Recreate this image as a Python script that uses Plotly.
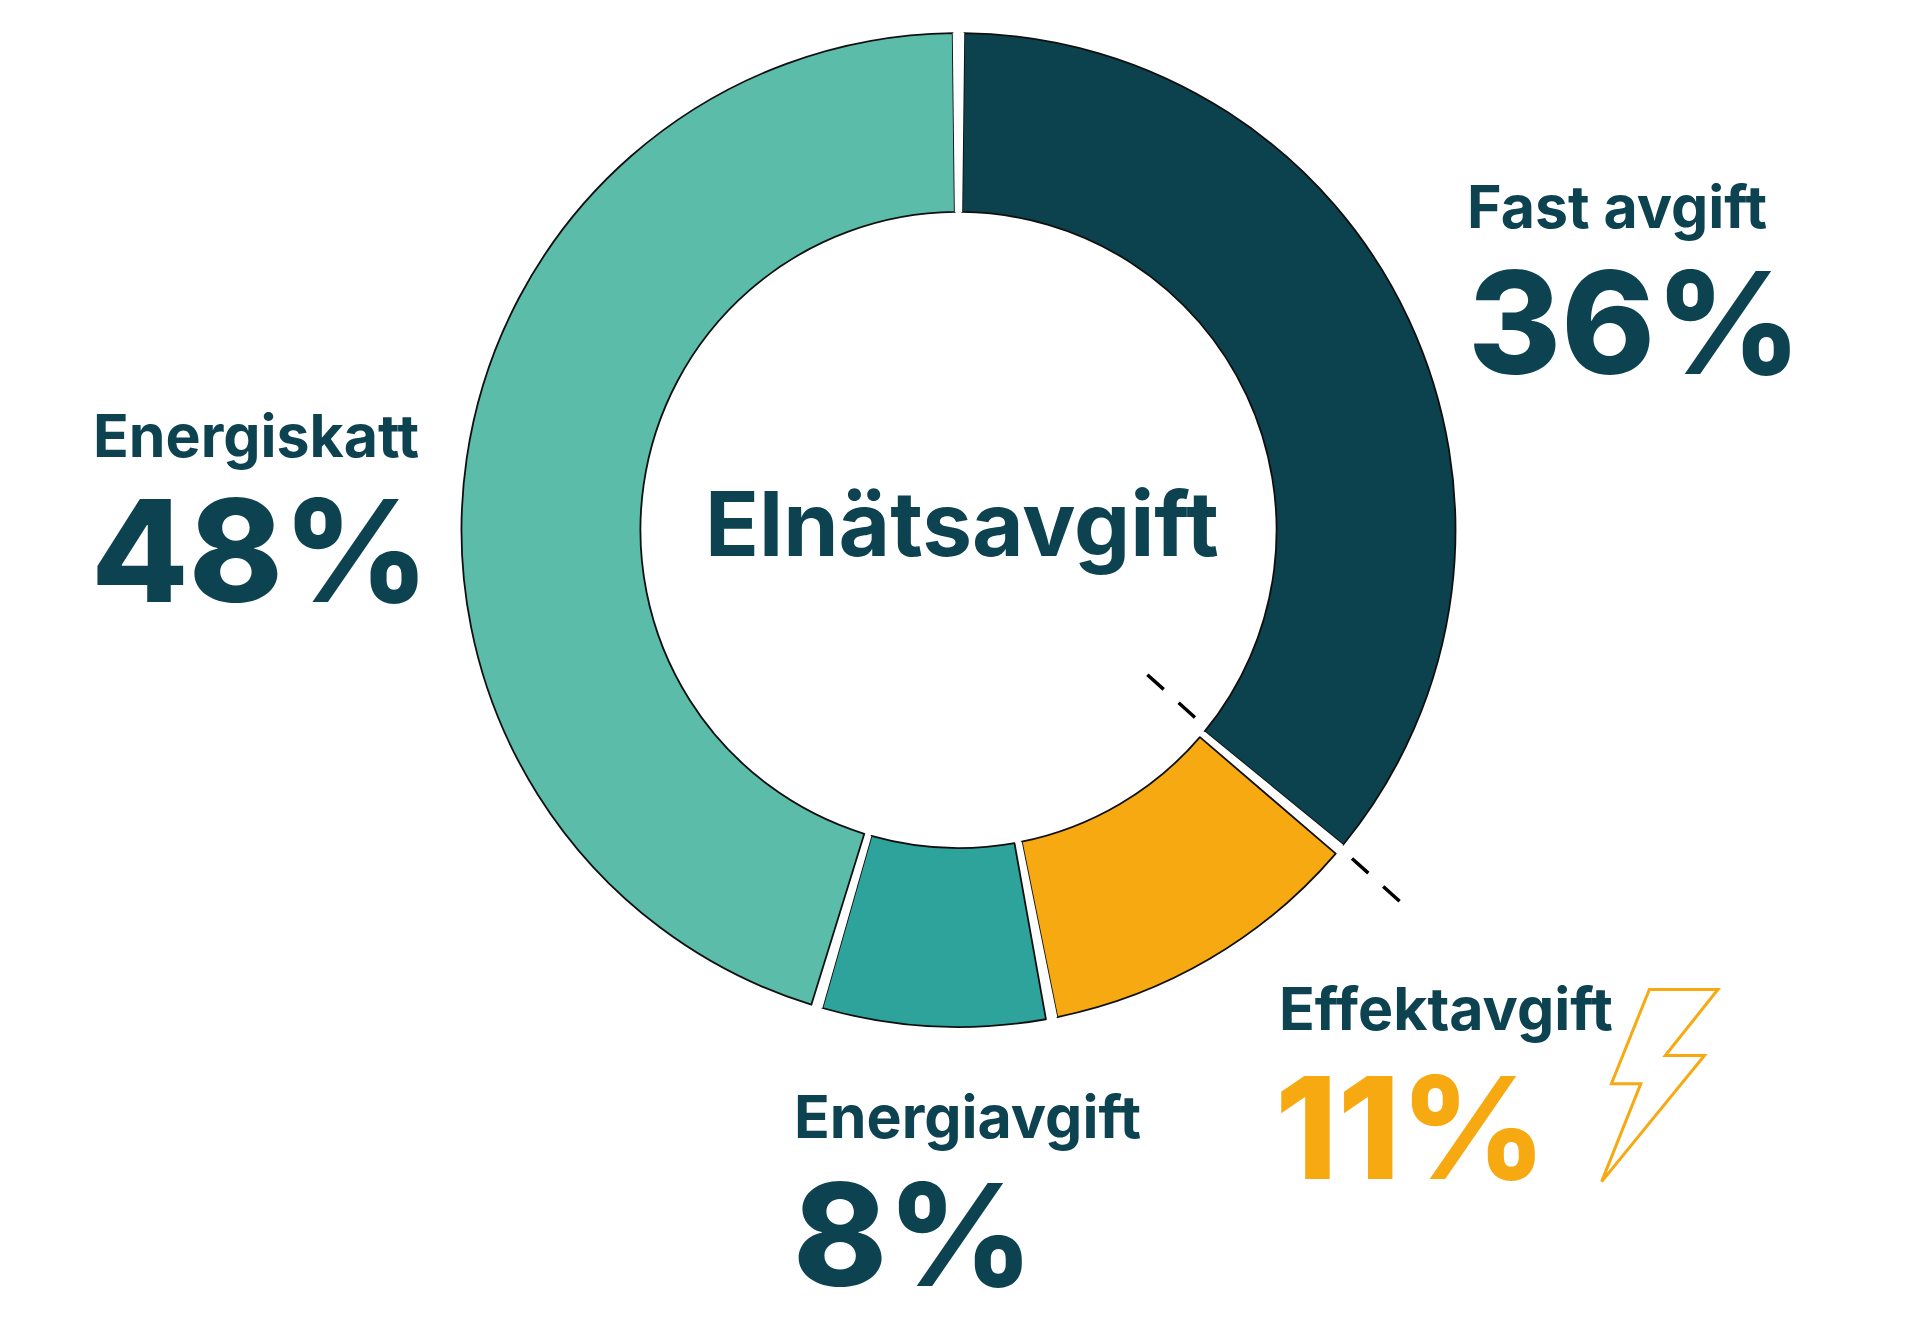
import plotly.graph_objects as go

# Data
categories = ["Fast avgift", "Effektavgift", "Energiavgift", "Energiskatt"]
ring_shares = [36.1, 10.9, 7.6, 45.4]      # share of the ring actually drawn
labels_pct = ["36%", "11%", "8%", "48%"]  # printed labels
colors = ["#0C414E", "#F7A912", "#2EA39B", "#5CBCAA"]
center_title = "Elnätsavgift"

W, H = 1920, 1320
PAGE_OFFSET = 8   # the page's body margin
DARK = "#0D4350"
ORANGE = "#F7A912"
FONT = "Inter"
GAP = 0.37  # white gap between slices, in % of ring

vals, cols, lw, names = [], [], [], []
for c, s, col in zip(categories, ring_shares, colors):
    vals += [s - GAP, GAP]
    cols += [col, "#FFFFFF"]
    lw += [1.8, 0]
    names += [c, c + " "]

def px(x): return (x - PAGE_OFFSET) / W
def py(y): return 1 - (y - PAGE_OFFSET) / H

cx, cy, R = 958.5, 530, 497
fig = go.Figure(go.Pie(
    labels=names, values=vals, sort=False, direction="clockwise",
    rotation=GAP * 3.6 / 2, hole=0.64, textinfo="none", showlegend=False,
    hoverinfo="label", automargin=False,
    domain=dict(x=[px(cx - R), px(cx + R)], y=[py(cy + R), py(cy - R)]),
    marker=dict(colors=cols, line=dict(color="#101010", width=lw)),
))

def text(s, x, base, size, color=DARK, weight=700):
    # x = left edge in px, base = baseline in px
    fig.add_annotation(text=s, xref="paper", yref="paper", x=px(x), y=py(base + size * 0.245),
                       xanchor="left", yanchor="bottom", showarrow=False, align="left",
                       borderpad=0, borderwidth=0,
                       font=dict(family=FONT, size=size, color=color, weight=weight))

place = {
    "Fast avgift": (1467, 228, 1468, 373),
    "Effektavgift": (1279, 1030, 1275, 1178),
    "Energiavgift": (794, 1138, 793, 1285),
    "Energiskatt": (93, 457, 91, 601),
}
for c, p, col in zip(categories, labels_pct, colors):
    x1, b1, x2, b2 = place[c]
    text(c, x1, b1, 59)
    text(p, x2, b2, 142, ORANGE if c == "Effektavgift" else DARK, 800)
text(center_title, 705, 555, 89)

k = W / 1568
# dashed divider behind the ring: two dashes on each side
ux, uy = 0.744, 0.668
sx, sy = 937 * k, 551 * k
ex, ey = 1143 * k, 736 * k
span = 64
for (a, b, c, d) in [(sx, sy, sx + ux * span, sy + uy * span), (ex, ey, ex - ux * span, ey - uy * span)]:
    fig.add_shape(type="line", xref="paper", yref="paper", layer="below",
                  x0=px(a), y0=py(b), x1=px(c), y1=py(d),
                  line=dict(color="#000000", width=3.5, dash="22px,20px"))
# lightning bolt
bolt = [(1347, 808), (1403, 808), (1360, 862), (1392, 862), (1308, 965), (1340, 885), (1316, 885)]
path = "M " + " L ".join(f"{px(a * k):.5f},{py(b * k):.5f}" for a, b in bolt) + " Z"
fig.add_shape(type="path", path=path, xref="paper", yref="paper",
              line=dict(color=ORANGE, width=3), fillcolor="rgba(0,0,0,0)")

fig.update_layout(width=W, height=H, margin=dict(l=0, r=0, t=0, b=0),
                  paper_bgcolor="#FFFFFF", plot_bgcolor="#FFFFFF", showlegend=False)
fig.write_html("out.html", config=dict(displayModeBar=False))
